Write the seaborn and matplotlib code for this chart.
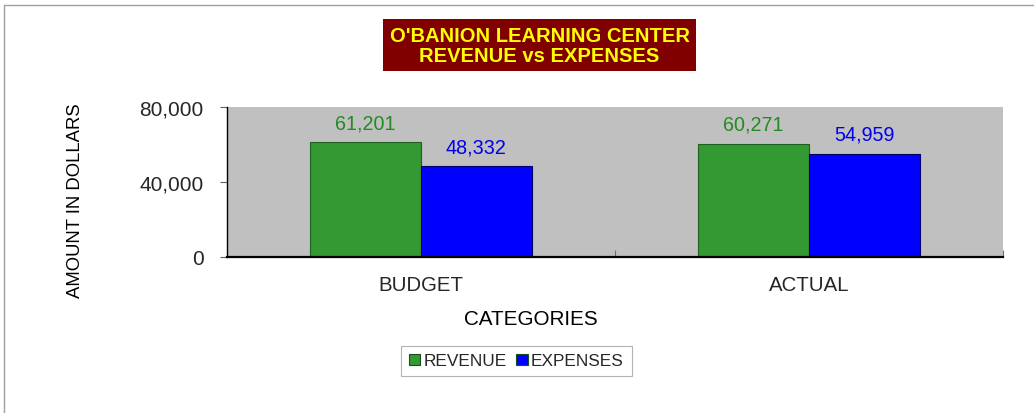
import matplotlib
matplotlib.use("Agg")
import matplotlib.pyplot as plt
import matplotlib.ticker as mticker
from matplotlib.patches import Rectangle
from matplotlib.lines import Line2D
import seaborn as sns
import pandas as pd

categories = ["BUDGET", "ACTUAL"]
series = ["REVENUE", "EXPENSES"]
revenue = [61201, 60271]
expenses = [48332, 54959]
y_ticks = [0, 40000, 80000]

sns.set_theme(style="white")
plt.rcParams["font.family"] = ["Liberation Sans", "DejaVu Sans"]

df = pd.DataFrame({
    "category": categories * 2,
    "series": [series[0]] * 2 + [series[1]] * 2,
    "amount": revenue + expenses,
})

W, H = 1034, 414
fig = plt.figure(figsize=(W / 100, H / 100), dpi=100)
fig.patch.set_facecolor("white")

def fx(px):
    return px / W

def fy(py):
    return 1 - py / H

ax = fig.add_axes([fx(227), fy(257.5), fx(1003) - fx(227), fy(107.7) - fy(257.5)])
ax.set_facecolor("#C0C0C0")

palette = {"REVENUE": "#339933", "EXPENSES": "#0000FF"}
sns.barplot(data=df, x="category", y="amount", hue="series", order=categories,
            hue_order=series, palette=palette, width=0.57, saturation=1,
            edgecolor="#1a4d1a", linewidth=0.8, ax=ax, legend=True)

# edge colours per series
for cont, ec in zip(ax.containers, ["#1f5f1f", "#000066"]):
    for bar in cont:
        bar.set_edgecolor(ec)

label_colors = ["#228B22", "#0000EE"]
for cont, col in zip(ax.containers, label_colors):
    ax.bar_label(cont, labels=[f"{v:,.0f}" for v in cont.datavalues],
                 padding=7, color=col, fontsize=14.2)

ax.set_xlim(-0.5, 1.5)
ax.set_ylim(0, 80000)
ax.set_yticks(y_ticks)
ax.yaxis.set_major_formatter(mticker.FuncFormatter(lambda v, p: f"{v:,.0f}"))
ax.tick_params(axis="y", direction="out", length=5, width=0.8, color="#606060",
               pad=12, labelsize=15, left=True)
ax.tick_params(axis="x", length=0, pad=13, labelsize=14.7)
ax.set_xticks([0.5, 1.5], minor=True)
ax.tick_params(axis="x", which="minor", direction="in", length=5, width=0.8,
               color="#707070", bottom=True)
ax.set_xlabel("")
ax.set_ylabel("")
for s in ["top", "right"]:
    ax.spines[s].set_visible(False)
ax.spines["left"].set_color("black")
ax.spines["left"].set_linewidth(1.0)
ax.spines["bottom"].set_color("black")
ax.spines["bottom"].set_linewidth(1.6)

# axis titles
fig.text(fx(75), fy(201), "AMOUNT IN DOLLARS", rotation=90, ha="center",
         va="center", fontsize=13.3, color="black")
fig.text(fx(531), fy(320), "CATEGORIES", ha="center", va="center",
         fontsize=14.9, color="black")

# legend
handles, labels = ax.get_legend_handles_labels()
if ax.get_legend() is not None:
    ax.get_legend().remove()
leg = fig.legend(handles, labels, loc="center",
                 bbox_to_anchor=(fx(516.5), fy(362)), ncol=2,
                 frameon=True, fancybox=False, fontsize=12.4,
                 handlelength=0.65, handleheight=0.65, handletextpad=0.2,
                 columnspacing=0.55, borderpad=0.45, borderaxespad=0)
leg.get_frame().set_edgecolor("#A0A0A0")
leg.get_frame().set_linewidth(0.8)

# title box
fig.patches.append(Rectangle((fx(383), fy(72)), fx(696) - fx(383), fy(20) - fy(72),
                             transform=fig.transFigure, facecolor="#800000",
                             edgecolor="none", zorder=1))
fig.text(fx(539.5), fy(46.5), "O'BANION LEARNING CENTER\nREVENUE vs EXPENSES",
         ha="center", va="center", fontsize=14.5, fontweight="bold",
         color="#FFFF00", linespacing=1.0, zorder=2)

# chart border (top and left visible)
fig.add_artist(Line2D([fx(4), fx(1034)], [fy(6), fy(6)], transform=fig.transFigure,
                      color="#A0A0A0", linewidth=1))
fig.add_artist(Line2D([fx(4), fx(4)], [fy(6), fy(414)], transform=fig.transFigure,
                      color="#A0A0A0", linewidth=1))

fig.savefig("out.png", dpi=100)
